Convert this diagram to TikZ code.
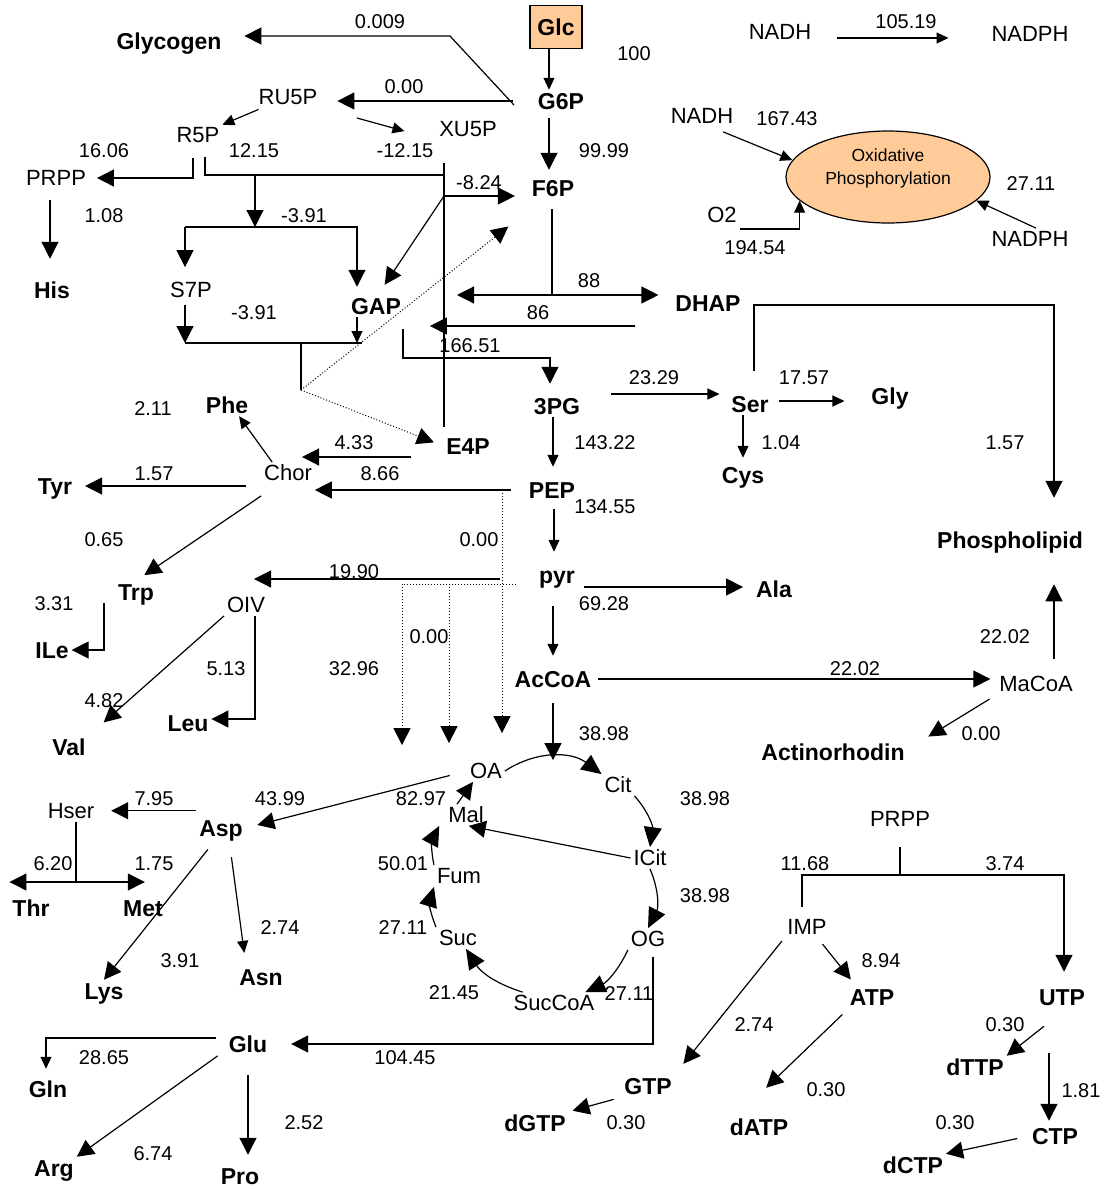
\documentclass[tikz,border=0pt]{standalone}
\usepackage{fontspec}
\setmainfont{Liberation Sans}
\usetikzlibrary{arrows.meta,shapes.geometric,positioning}
\definecolor{peach}{HTML}{FFCC99}
\tikzstyle{every node}=[inner sep=0pt]
\tikzstyle{metab}=[font=\fontsize{23}{26}\selectfont\bfseries, text height=16.5pt, text depth=0pt, outer sep=3pt]
\tikzstyle{inter}=[font=\fontsize{22}{25}\selectfont, text height=15.8pt, text depth=0pt, outer sep=3pt]
\tikzstyle{flux}=[font=\fontsize{20}{23}\selectfont, text height=14.3pt, text depth=0pt]
\tikzstyle{arr}=[-{Triangle[length=17pt,width=17pt]}]
\tikzstyle{sarr}=[-{Triangle[length=12pt,width=11pt]}]
\tikzstyle{carr}=[-{Triangle[length=20pt,width=18pt]}]
\tikzstyle{dotline}=[dotted, line width=1pt]

\begin{document}
\begin{tikzpicture}[x=1pt,y=-1pt,line width=1.2pt]
  \useasboundingbox (0,0) rectangle (1104,1189);
  % metabolites
  \node[metab] (glycogen) at (169,41) {Glycogen};
  \node[metab,draw,fill=peach,minimum width=52pt,minimum height=43pt,outer sep=0pt] (glc) at (556,27) {Glc};
  \node[metab] (g6p) at (561,101) {G6P};
  \node[metab] (f6p) at (553,188) {F6P};
  \node[inter] (ru5p) at (288,97) {RU5P};
  \node[inter] (r5p) at (198,135) {R5P};
  \node[inter] (xu5p) at (468,129) {XU5P};
  \node[inter] (prpp) at (56,178) {PRPP};
  \node[metab] (his) at (52,290) {His};
  \node[inter] (s7p) at (191,290) {S7P};
  \node[metab] (gap) at (376,306) {GAP};
  \node[metab] (dhap) at (708,303) {DHAP};
  \node[metab] (e4p) at (468,446) {E4P};
  \node[metab] (pgthree) at (557,406) {3PG};
  \node[metab] (ser) at (750,404) {Ser};
  \node[metab] (gly) at (890,396) {Gly};
  \node[metab] (cys) at (743,475) {Cys};
  \node[metab] (phe) at (227,405) {Phe};
  \node[inter] (chor) at (288,473) {Chor};
  \node[metab] (tyr) at (55,486) {Tyr};
  \node[metab] (pep) at (552,490) {PEP};
  \node[metab] (trp) at (136,592) {Trp};
  \node[metab] (ile) at (52,650) {ILe};
  \node[inter] (oiv) at (246,605) {OIV};
  \node[metab] (pyr) at (557,575) {pyr};
  \node[metab] (ala) at (774,589) {Ala};
  \node[metab] (phosph) at (1010,540) {Phospholipid};
  \node[metab] (accoa) at (553,679) {AcCoA};
  \node[inter] (macoa) at (1036,684) {MaCoA};
  \node[metab] (actino) at (833,752) {Actinorhodin};
  \node[metab] (val) at (69,747) {Val};
  \node[metab] (leu) at (188,723) {Leu};
  \node[inter] (oa) at (486,771) {OA};
  \node[inter] (cit) at (618,785) {Cit};
  \node[inter] (icit) at (650,858) {ICit};
  \node[inter] (og) at (648,939) {OG};
  \node[inter] (succoa) at (554,1003) {SucCoA};
  \node[inter] (suc) at (458,938) {Suc};
  \node[inter] (fum) at (459,876) {Fum};
  \node[inter] (mal) at (466,815) {Mal};
  \node[metab] (asp) at (221,828) {Asp};
  \node[inter] (hser) at (71,811) {Hser};
  \node[metab] (thr) at (31,908) {Thr};
  \node[metab] (meth) at (143,908) {Met};
  \node[metab] (lys) at (104,991) {Lys};
  \node[metab] (asn) at (261,977) {Asn};
  \node[metab] (glu) at (248,1044) {Glu};
  \node[metab] (gln) at (48,1089) {Gln};
  \node[metab] (arg) at (54,1168) {Arg};
  \node[metab] (pro) at (240,1176) {Pro};
  \node[inter] (prppn) at (900,819) {PRPP};
  \node[inter] (imp) at (807,927) {IMP};
  \node[metab] (atp) at (872,997) {ATP};
  \node[metab] (utp) at (1062,997) {UTP};
  \node[metab] (gtp) at (648,1086) {GTP};
  \node[metab] (dgtp) at (535,1123) {dGTP};
  \node[metab] (datp) at (759,1127) {dATP};
  \node[metab] (dttp) at (975,1067) {dTTP};
  \node[metab] (ctp) at (1055,1136) {CTP};
  \node[metab] (dctp) at (913,1165) {dCTP};
  \node[inter] (nadha) at (780,32) {NADH};
  \node[inter] (nadpha) at (1030,34) {NADPH};
  \node[inter] (nadhb) at (702,116) {NADH};
  \node[inter] (otwo) at (722,215) {O2};
  \node[inter] (nadphb) at (1030,239) {NADPH};
  \node[ellipse,draw,fill=peach,minimum width=204pt,minimum height=92pt,align=center,
        font=\fontsize{17.5}{23}\selectfont,text depth=20pt] (oxphos) at (888,177) {Oxidative\\Phosphorylation};
  % fluxes
  \node[flux] (fglycogen) at (380,21) {0.009};
  \node[flux] (fglc) at (634,53) {100};
  \node[flux] (ftrans) at (906,21) {105.19};
  \node[flux] (fru5p) at (404,86) {0.00};
  \node[flux] (fr5p) at (254,150) {12.15};
  \node[flux] (fxu5p) at (405,150) {-12.15};
  \node[flux] (fprpp) at (104,150) {16.06};
  \node[flux] (fpgi) at (604,150) {99.99};
  \node[flux] (fnadh) at (787,118) {167.43};
  \node[flux] (ftkb) at (479,182) {-8.24};
  \node[flux] (fnadph) at (1031,183) {27.11};
  \node[flux] (fhis) at (104,215) {1.08};
  \node[flux] (ftka) at (304,215) {-3.91};
  \node[flux] (fotwo) at (755,247) {194.54};
  \node[flux] (fdhap) at (589,280) {88};
  \node[flux] (ftpi) at (538,312) {86};
  \node[flux] (ftal) at (254,312) {-3.91};
  \node[flux] (fgapdh) at (470,345) {166.51};
  \node[flux] (fser) at (654,377) {23.29};
  \node[flux] (fgly) at (804,377) {17.57};
  \node[flux] (fphe) at (153,408) {2.11};
  \node[flux] (fe4p) at (354,442) {4.33};
  \node[flux] (feno) at (605,442) {143.22};
  \node[flux] (fcys) at (781,442) {1.04};
  \node[flux] (fpl) at (1005,442) {1.57};
  \node[flux] (ftyr) at (154,473) {1.57};
  \node[flux] (fpepchor) at (380,473) {8.66};
  \node[flux] (fpyk) at (605,506) {134.55};
  \node[flux] (ftrp) at (104,539) {0.65};
  \node[flux] (fppc) at (479,539) {0.00};
  \node[flux] (foiv) at (354,571) {19.90};
  \node[flux] (file) at (54,603) {3.31};
  \node[flux] (fala) at (604,603) {69.28};
  \node[flux] (fme) at (429,636) {0.00};
  \node[flux] (fplb) at (1005,636) {22.02};
  \node[flux] (fleu) at (226,668) {5.13};
  \node[flux] (fpc) at (354,668) {32.96};
  \node[flux] (facc) at (855,668) {22.02};
  \node[flux] (fval) at (104,700) {4.82};
  \node[flux] (fpdh) at (604,733) {38.98};
  \node[flux] (fact) at (981,733) {0.00};
  \node[flux] (fhser) at (154,798) {7.95};
  \node[flux] (fasp) at (280,798) {43.99};
  \node[flux] (fmdh) at (421,798) {82.97};
  \node[flux] (fcs) at (705,798) {38.98};
  \node[flux] (fthr) at (53,863) {6.20};
  \node[flux] (fmet) at (154,863) {1.75};
  \node[flux] (ffum) at (403,863) {50.01};
  \node[flux] (fimp) at (805,863) {11.68};
  \node[flux] (futp) at (1005,863) {3.74};
  \node[flux] (facn) at (705,895) {38.98};
  \node[flux] (fasn) at (280,927) {2.74};
  \node[flux] (fsdh) at (403,927) {27.11};
  \node[flux] (flys) at (180,960) {3.91};
  \node[flux] (fatp) at (881,960) {8.94};
  \node[flux] (fscs) at (454,992) {21.45};
  \node[flux] (fogdh) at (629,993) {27.11};
  \node[flux] (fgtp) at (754,1024) {2.74};
  \node[flux] (fdttp) at (1005,1024) {0.30};
  \node[flux] (fglu) at (405,1057) {104.45};
  \node[flux] (fgln) at (104,1057) {28.65};
  \node[flux] (fdatp) at (826,1089) {0.30};
  \node[flux] (fctp) at (1081,1090) {1.81};
  \node[flux] (fpro) at (304,1122) {2.52};
  \node[flux] (fdgtp) at (626,1122) {0.30};
  \node[flux] (fdctp) at (955,1122) {0.30};
  \node[flux] (farg) at (153,1153) {6.74};
  % junctions
  \coordinate (glyb) at (450,36);
  \coordinate (rbl) at (193,158);
  \coordinate (rbr) at (205,157);
  \coordinate (vtop) at (444,163);
  \coordinate (vr) at (444,175);
  \coordinate (tka) at (255,175);
  \coordinate (sbl) at (185,227);
  \coordinate (sbr) at (357,227);
  \coordinate (tkb) at (444,196);
  \coordinate (tbl) at (185,343);
  \coordinate (tbr) at (362,343);
  \coordinate (tbm) at (301,343);
  \coordinate (dotj) at (301,390);
  \coordinate (ald) at (552,295);
  \coordinate (gapb) at (403,358);
  \coordinate (plc) at (1054,305);
  \coordinate (pepd) at (502,490);
  \coordinate (pyrda) at (402,584);
  \coordinate (pyrdb) at (449,584);
  \coordinate (hsj) at (76,882);
  \coordinate (impb) at (802,875);
  \coordinate (utpb) at (1064,875);
  % glycolysis and pentose phosphate
  \draw[sarr] ([xshift=-7pt]glc.south) -- ([xshift=-12pt]g6p.north);
  \draw[arr,shorten <=6pt,shorten >=7pt] ([xshift=-12pt]g6p.south) -- ([xshift=-4pt]f6p.north);
  \draw[arr,shorten >=20pt] ([shift={(-21pt,-4pt)}]g6p.west) -- (glyb) -- (glyb -| glycogen.east);
  \draw[arr,shorten <=22pt,shorten >=17pt] (g6p.west) -- (g6p.west -| ru5p.east);
  \draw[sarr,shorten <=4pt] (ru5p) -- (r5p);
  \draw[sarr,shorten <=38pt,shorten >=33pt] (ru5p.south east) -- (xu5p.south west);
  \draw[arr,shorten >=8pt] (rbl) |- (prpp.east);
  \draw (rbr) |- (vr);
  \draw[shorten >=8pt] (vtop) -- (vtop |- e4p.north);
  \draw[arr,shorten <=11pt,shorten >=20pt] ([xshift=-6pt]prpp.south) -- ([xshift=-6pt]prpp.south |- his.north);
  \draw[arr] (tka) -- (tka |- sbl);
  \draw[arr,shorten >=12pt] (sbl) -- (sbl |- s7p.north);
  \draw[arr,shorten >=8pt] (sbl) -- (sbr) -- (sbr |- gap.north);
  \draw[arr,shorten >=12pt] (tkb) -- ([xshift=2pt]gap.north);
  \draw[arr,shorten >=14pt] (tkb) -- (tkb -| f6p.west);
  \draw[arr,shorten <=4pt] (s7p.south -| sbl) -- (tbl);
  \draw (tbl) -- (tbr);
  \draw[sarr] ([xshift=-19pt]gap.south) -- ([xshift=-19pt]gap.south |- tbr);
  \draw (tbm) -- (dotj);
  \draw[dotline,arr,shorten >=2pt] (dotj) -- ([shift={(-19pt,-26pt)}]f6p.south west);
  \draw[dotline,arr,shorten >=10pt] (dotj) -- (e4p.west);
  \draw[shorten <=10pt] (f6p.south -| ald) -- (ald);
  \draw[arr,shorten >=14pt] (ald) -- (ald -| dhap.west);
  \draw[arr,shorten >=13pt] (ald) -- (ald -| vtop);
  \draw[arr,shorten <=37pt,shorten >=26pt] ([yshift=-23pt]dhap.west) -- ([yshift=-23pt]dhap.west -| gap.east);
  \draw[arr,shorten <=12pt,shorten >=11pt] (gap.south -| gapb) -- (gapb) -| ([xshift=-7pt]pgthree.north);
  \draw[sarr,shorten >=12pt] ([xshift=-4pt]pgthree.south) -- ([xshift=1pt]pep.north);
  \draw[sarr,shorten <=8pt,shorten >=12pt] ([xshift=2pt]pep.south) -- ([xshift=-3pt]pyr.north);
  \draw[sarr,shorten <=20pt,shorten >=12pt] (pyr.south -| accoa) -- (accoa.north);
  \draw[arr,shorten <=13pt] (accoa.south) -- (accoa.south |- oa.north);
  % serine, alanine, lipids
  \draw[sarr,shorten <=28pt,shorten >=9pt] ([yshift=12pt]pgthree.east) -- ([yshift=12pt]pgthree.east -| ser.west);
  \draw[sarr,shorten <=7pt,shorten >=24pt] ([yshift=3pt]ser.east) -- ([yshift=3pt]ser.east -| gly.west);
  \draw[sarr,shorten >=6pt] ([xshift=-7pt]ser.south) -- ([xshift=-7pt]ser.south |- cys.north);
  \draw[arr,shorten <=22pt,shorten >=31pt] ([xshift=4pt]ser.north) |- (plc) -- (plc |- phosph.north);
  \draw[arr,shorten <=14pt,shorten >=33pt] (macoa.north -| plc) -- (plc |- phosph.south);
  \draw[arr,shorten <=4pt,shorten >=6pt] (accoa.east) -- (accoa.east -| macoa.west);
  \draw[arr,shorten <=8pt,shorten >=8pt] (macoa.south west) -- ([xshift=14pt]actino.north east);
  \draw[arr,shorten <=6pt,shorten >=10pt] ([yshift=-12pt]pyr.east) -- ([yshift=-12pt]pyr.east -| ala.west);
  % aromatic and branched chain
  \draw[arr,shorten <=32pt,shorten >=14pt] ([yshift=-11pt]e4p.west) -- ([yshift=-11pt]e4p.west -| chor);
  \draw[arr,shorten <=15pt] (pep.west) -- (pep.west -| chor.east);
  \draw[sarr] ([xshift=11pt]chor.north west) -- ([xshift=-12pt]phe.south east);
  \draw[arr,shorten <=15pt,shorten >=10pt] ([yshift=-13pt]chor.west) -- ([yshift=-13pt]chor.west -| tyr.east);
  \draw[arr,shorten >=10pt] ([yshift=-12pt]chor.south west) -- (trp.north);
  \draw[arr] ([xshift=-32pt]trp.south) |- (ile.east);
  \draw[dotline,arr,shorten >=27pt] (pepd) -- (pepd |- oa.north);
  \draw[arr,shorten <=36pt,shorten >=8pt] ([yshift=-4pt]pyr.west) -- ([yshift=-4pt]pyr.west -| oiv);
  \draw[dotline,shorten <=20pt] ([yshift=-9pt]pyr.west) -- (pyrda);
  \draw[dotline,arr,shorten >=15pt] (pyrda) -- (pyrda |- oa.north);
  \draw[dotline,arr,shorten >=17pt] (pyrdb) -- (pyrdb |- oa.north);
  \draw[arr,shorten >=20pt] (oiv.south west) -- (val.north east);
  \draw[arr] ([xshift=9pt]oiv.south) |- ([yshift=4pt]leu.east);
  % TCA cycle
  \draw[carr] (oa.east) to[bend left=35] (cit.north west);
  \draw[carr] (cit.south east) to[bend left=25] (icit.north);
  \draw[carr] (icit.south) to[bend left=25] (og.north);
  \draw[carr] (og.south west) to[bend left=20] ([xshift=-12pt]succoa.north east);
  \draw[carr] ([xshift=12pt]succoa.north west) to[bend left=20] ([xshift=8pt]suc.south);
  \draw[carr] (suc.north west) to[bend left=20] (fum.south west);
  \draw[carr] (fum.north west) to[bend left=20] ([xshift=-6pt]mal.south west);
  \draw[arr] ([xshift=-9pt]mal.north) -- ([xshift=-13pt]oa.south);
  \draw[arr] (icit.west) -- ([xshift=-18pt]mal.south east);
  \draw[arr,shorten <=18pt,shorten >=12pt] (oa.west) -- (asp.east);
  % aspartate and glutamate families
  \draw[arr,shorten >=14pt] ([yshift=6pt]asp.north west) -- ([yshift=6pt]asp.north west -| hser.east);
  \draw ([xshift=5pt]hser.south) -- (hsj);
  \draw[arr] (hsj) -- (hsj -| thr.west);
  \draw[arr,shorten >=21pt] (hsj) -- (hsj -| meth.east);
  \draw[arr,shorten <=13pt] ([xshift=-5pt]asp.south) -- (lys.north);
  \draw[sarr,shorten <=18pt,shorten >=13pt] ([xshift=8pt]asp.south) -- ([xshift=-15pt]asn.north);
  \draw[arr,shorten <=7pt,shorten >=21pt] ([xshift=5pt]og.south) |- (glu.east);
  \draw[sarr,shorten <=10pt,shorten >=9pt] ([yshift=6pt]glu.west) -| ([xshift=-2pt]gln.north);
  \draw[arr,shorten <=10pt] ([yshift=-6pt]glu.west) -- (arg.north east);
  \draw[arr,shorten <=20pt,shorten >=10pt] (glu.south) -- (glu.south |- pro.north);
  % nucleotides
  \draw[shorten <=17pt] (prppn.south) -- (prppn.south |- impb);
  \draw[arr,shorten <=9pt,shorten >=14pt] (imp.north -| impb) -- (impb) -- (utpb) -- (utpb |- utp.north);
  \draw[arr,shorten <=8pt,shorten >=8pt] ([xshift=-12pt]imp.south east) -- ([xshift=9pt]atp.north west);
  \draw[arr,shorten <=4pt,shorten >=14pt] (imp.south west) -- (gtp.north east);
  \draw[arr,shorten <=9pt] ([xshift=2pt]atp.south west) -- ([shift={(-25pt,28pt)}]datp.north east);
  \draw[arr,shorten <=8pt,shorten >=4pt] (gtp.south west) -- (dgtp.north east);
  \draw[arr] ([shift={(8pt,-18pt)}]utp.south west) -- (dttp.north east);
  \draw[arr,shorten <=45pt,shorten >=4pt] ([xshift=-13pt]utp.south) -- ([xshift=-13pt]utp.south |- ctp.north);
  \draw[arr,shorten <=12pt] (ctp.west) -- (dctp.north east);
  % redox
  \draw[sarr,shorten <=23pt,shorten >=40pt] ([yshift=-6pt]nadha.east) -- ([yshift=-6pt]nadha.east -| nadpha.west);
  \draw[sarr] ([shift={(-13pt,-5pt)}]nadhb.south east) -- (oxphos.170);
  \draw[sarr] ([yshift=-14pt]otwo.east) -| (oxphos.195);
  \draw[sarr] ([xshift=6pt]nadphb.north) -- (oxphos.-15);
\end{tikzpicture}
\end{document}
